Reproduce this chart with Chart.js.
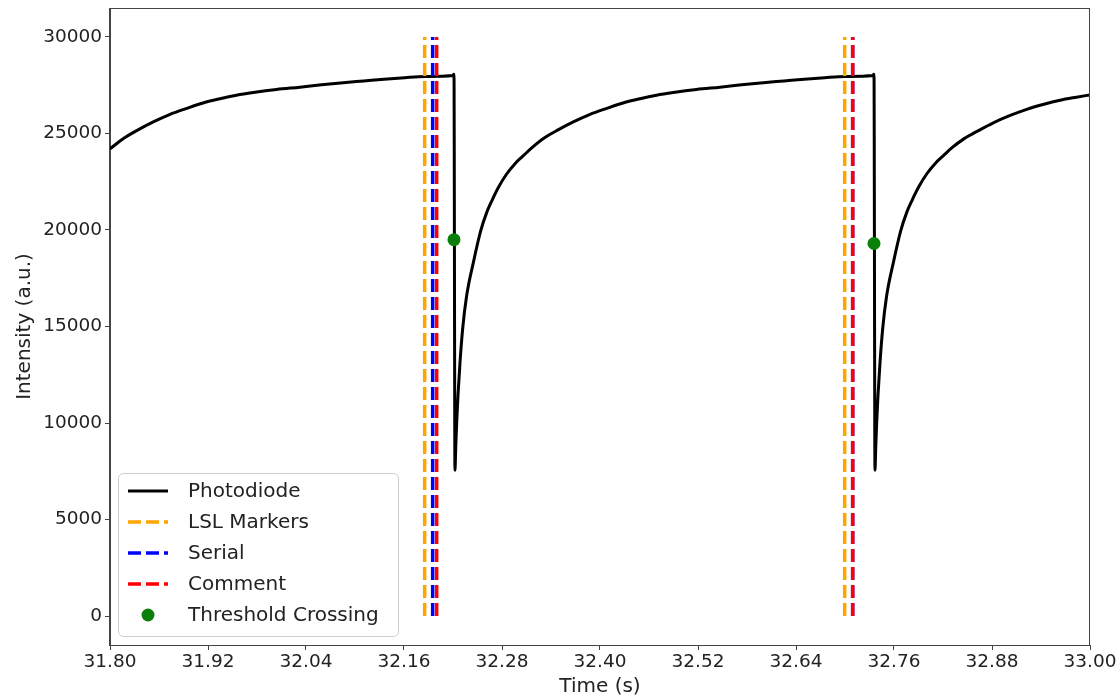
<!DOCTYPE html>
<html>
<head>
<meta charset="utf-8">
<script src="https://cdn.jsdelivr.net/npm/chart.js@4/dist/chart.umd.min.js"></script>
<style>
  body { margin: 0; background: #fff; }
  #wrap { width: 1119px; height: 700px; }
</style>
</head>
<body>
<div id="wrap"><canvas id="chart" width="1119" height="700"></canvas></div>
<script>
// photodiode trace (time in s, intensity in a.u.)
const timeS = [
  31.8000, 31.8169, 31.8349, 31.8530, 31.8729, 31.8939, 31.9139, 31.9347, 31.9549, 31.9755,
  32.0039, 32.0326, 32.0589, 32.0857, 32.1109, 32.1357, 32.1609, 32.1857, 32.2197, 32.2212,
  32.2224, 32.2234, 32.2245, 32.2261, 32.2286, 32.2318, 32.2367, 32.2449, 32.2539, 32.2612,
  32.2674, 32.2762, 32.2857, 32.2962, 32.3062, 32.3164, 32.3312, 32.3492, 32.3673, 32.3872,
  32.4082, 32.4282, 32.4490, 32.4692, 32.4898, 32.5182, 32.5469, 32.5732, 32.6000, 32.6252,
  32.6500, 32.6752, 32.7000, 32.7340, 32.7355,
  32.7367, 32.7377, 32.7388, 32.7404, 32.7429, 32.7461, 32.7510, 32.7592, 32.7682, 32.7755,
  32.7817, 32.7905, 32.8000, 32.8105, 32.8205, 32.8307, 32.8455, 32.8635, 32.8816, 32.9015,
  32.9225, 32.9425, 32.9633, 32.9835, 33.0000
];
const intensity = [
  24200, 24750, 25200, 25600, 25980, 26300, 26580, 26800, 26980, 27120,
  27280, 27400, 27520, 27630, 27720, 27810, 27890, 27950, 28000, 28070,
  7550, 8800, 10000, 11425, 13150, 14870, 16590, 18310, 19950, 20900,
  21500, 22250, 22900, 23450, 23850, 24250, 24750, 25200, 25600, 25980,
  26300, 26580, 26800, 26980, 27120, 27280, 27400, 27520, 27630, 27720,
  27810, 27890, 27950, 28000, 28070,
  7550, 8800, 10000, 11425, 13150, 14870, 16590, 18310, 19950, 20900,
  21500, 22250, 22900, 23450, 23850, 24250, 24720, 25150, 25550, 25920,
  26250, 26500, 26720, 26880, 27000
];

const lslMarkers = [32.1853, 32.6996];
const serialMarkers = [32.1951, 32.7094];
const commentMarkers = [32.2000, 32.7094];
const markerSpan = [0, 30000];

const crossingTimes = [32.2212, 32.7355];
const crossingValues = [19500, 19300];

const xTicks = [31.80, 31.92, 32.04, 32.16, 32.28, 32.40, 32.52, 32.64, 32.76, 32.88, 33.00];
const yTicks = [0, 5000, 10000, 15000, 20000, 25000, 30000];

function verticals(times) {
  const pts = [];
  times.forEach((t, i) => {
    if (i > 0) pts.push({ x: t, y: null });
    pts.push({ x: t, y: markerSpan[0] });
    pts.push({ x: t, y: markerSpan[1] });
  });
  return pts;
}

const font = "'DejaVu Sans', sans-serif";

const legendBox = {
  id: 'legendBox',
  afterDatasetsDraw(chart) {
    const ctx = chart.ctx;
    const items = [0, 1, 2, 3, 4].map(i => chart.data.datasets[i]);
    ctx.save();
    ctx.beginPath();
    ctx.roundRect(118.5, 473.5, 280, 163, 5);
    ctx.fillStyle = 'rgba(255,255,255,0.8)';
    ctx.fill();
    ctx.strokeStyle = '#cccccc';
    ctx.lineWidth = 1;
    ctx.stroke();
    ctx.font = '20px ' + font;
    ctx.textBaseline = 'middle';
    items.forEach((ds, i) => {
      const y = 491 + i * 31;
      if (ds.showLine === false) {
        ctx.beginPath();
        ctx.arc(148, y, 6.5, 0, Math.PI * 2);
        ctx.fillStyle = ds.pointBackgroundColor;
        ctx.fill();
      } else {
        ctx.beginPath();
        ctx.setLineDash(ds.borderDash || []);
        ctx.strokeStyle = ds.borderColor;
        ctx.lineWidth = ds.borderWidth;
        ctx.moveTo(128, y);
        ctx.lineTo(168, y);
        ctx.stroke();
        ctx.setLineDash([]);
      }
      ctx.fillStyle = '#222';
      ctx.fillText(ds.label, 188, y + 1);
    });
    ctx.restore();
  }
};

const frame = {
  id: 'frame',
  afterDraw(chart) {
    const a = chart.chartArea;
    const ctx = chart.ctx;
    ctx.save();
    ctx.strokeStyle = '#444';
    ctx.lineWidth = 1;
    ctx.strokeRect(Math.round(a.left) - 0.5, Math.round(a.top) + 0.5, Math.round(a.right - a.left), Math.round(a.bottom - a.top));
    ctx.restore();
  }
};

new Chart(document.getElementById('chart'), {
  type: 'line',
  data: {
    datasets: [
      {
        label: 'Photodiode',
        data: timeS.map((t, i) => ({ x: t, y: intensity[i] })),
        borderColor: '#000',
        borderWidth: 3,
        pointRadius: 0,
        cubicInterpolationMode: 'monotone',
        order: 4
      },
      {
        label: 'LSL Markers',
        data: verticals(lslMarkers),
        borderColor: '#FFA500',
        borderWidth: 3.5,
        borderDash: [13, 5],
        pointRadius: 0,
        spanGaps: false,
        order: 3
      },
      {
        label: 'Serial',
        data: verticals(serialMarkers),
        borderColor: '#0000FF',
        borderWidth: 3.5,
        borderDash: [13, 5],
        pointRadius: 0,
        spanGaps: false,
        order: 2
      },
      {
        label: 'Comment',
        data: verticals(commentMarkers),
        borderColor: '#FF0000',
        borderWidth: 3.5,
        borderDash: [13, 5],
        pointRadius: 0,
        spanGaps: false,
        order: 1
      },
      {
        label: 'Threshold Crossing',
        data: crossingTimes.map((t, i) => ({ x: t, y: crossingValues[i] })),
        showLine: false,
        pointRadius: 6.5,
        pointBackgroundColor: '#0a800a',
        pointBorderWidth: 0,
        borderColor: '#0a800a',
        order: 0
      }
    ]
  },
  options: {
    responsive: false,
    animation: false,
    layout: { padding: { top: 8, right: 29, left: 0, bottom: 0 } },
    plugins: { legend: { display: false }, tooltip: { enabled: false } },
    scales: {
      x: {
        type: 'linear',
        min: 31.80,
        max: 33.00,
        afterBuildTicks: s => { s.ticks = xTicks.map(v => ({ value: v })); },
        afterFit: s => { s.height = 55; s.paddingLeft = 0; s.paddingRight = 0; },
        ticks: {
          callback: v => Number(v).toFixed(2),
          color: '#222',
          font: { family: font, size: 18.5 },
          padding: 1,
          maxRotation: 0,
          autoSkip: false
        },
        grid: { drawOnChartArea: false, drawTicks: true, tickLength: 5, color: '#444' },
        border: { display: true, color: '#444' },
        title: {
          display: true,
          text: 'Time (s)',
          color: '#222',
          font: { family: font, size: 20 },
          padding: { top: 0, bottom: 1 }
        }
      },
      y: {
        min: -1500,
        max: 31500,
        afterBuildTicks: s => { s.ticks = yTicks.map(v => ({ value: v })); },
        afterFit: s => { s.width = 110; s.paddingTop = 0; s.paddingBottom = 0; },
        ticks: {
          callback: v => String(v),
          color: '#222',
          font: { family: font, size: 18.5 },
          padding: 3,
          autoSkip: false
        },
        grid: { drawOnChartArea: false, drawTicks: true, tickLength: 5, color: '#444' },
        border: { display: true, color: '#444' },
        title: {
          display: true,
          text: 'Intensity (a.u.)',
          color: '#222',
          font: { family: font, size: 20 },
          padding: { top: 13, bottom: 0 }
        }
      }
    }
  },
  plugins: [legendBox, frame]
});
</script>
</body>
</html>
